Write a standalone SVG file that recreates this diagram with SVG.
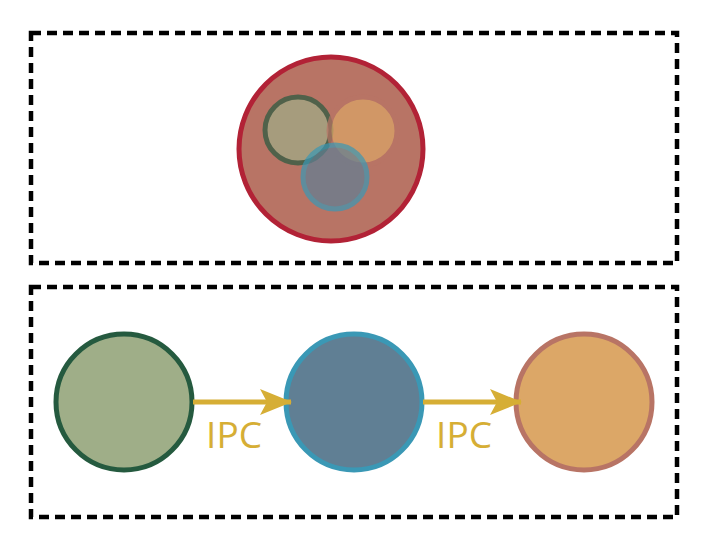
<svg xmlns="http://www.w3.org/2000/svg" width="710" height="544" viewBox="0 0 710 544">
<style>
.box{fill:none;stroke:#000;stroke-width:4.5;stroke-dasharray:10 6}
.g{fill:#9fae88;stroke:#255a3f;stroke-width:5}
.b{fill:#607f94;stroke:#3a98b5;stroke-width:5}
.o{fill:#dca767;stroke:#b87465;stroke-width:5}
.inner{opacity:0.7}
.arrow{stroke:#d6ae35;stroke-width:5;fill:none}
.lbl{font-family:"Open Sans","Noto Sans",sans-serif;font-size:37px;font-weight:500;fill:#d6ae35;text-anchor:middle}
</style>
<defs>
<marker id="ah" viewBox="0 0 32 28" refX="31" refY="14" markerWidth="32" markerHeight="28" markerUnits="userSpaceOnUse" orient="auto">
<path d="M0,1 L32,14 L0,27 L7,14 Z" fill="#d6ae35"/>
</marker>
</defs>
<rect class="box" x="31" y="33" width="646" height="230"/>
<rect class="box" x="31" y="287" width="646" height="230"/>
<g id="process">
<circle cx="331" cy="149" r="92" fill="#b87465" stroke="#b22236" stroke-width="5"/>
<circle class="g inner" cx="298" cy="130" r="33"/>
<circle class="o inner" cx="363" cy="131" r="34"/>
<circle class="b inner" cx="335" cy="177" r="32"/>
</g>
<g id="nodeA"><circle class="g" cx="124" cy="402" r="68"/></g>
<g id="nodeB"><circle class="b" cx="354" cy="402" r="68"/></g>
<g id="nodeC"><circle class="o" cx="584" cy="402" r="68"/></g>
<g id="connectors">
<line class="arrow" x1="193" y1="402" x2="291" y2="402" marker-end="url(#ah)"/>
<line class="arrow" x1="423" y1="402" x2="521" y2="402" marker-end="url(#ah)"/>
<text class="lbl" x="234" y="448">IPC</text>
<text class="lbl" x="464" y="448">IPC</text>
</g>
</svg>
